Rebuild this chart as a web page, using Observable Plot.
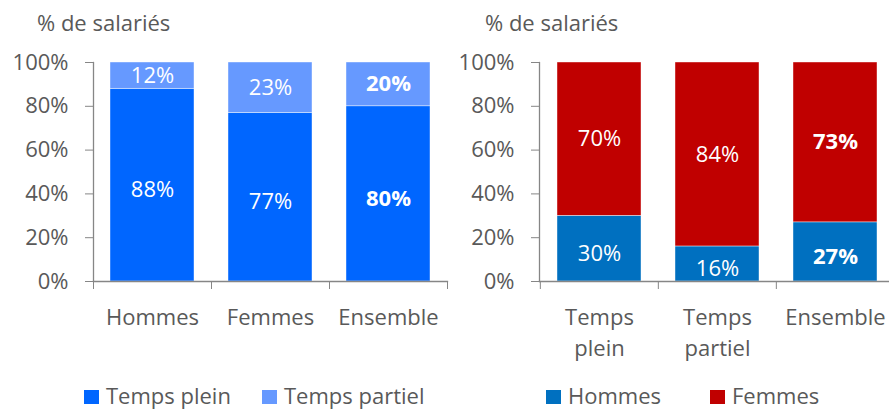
<!DOCTYPE html>
<html>
<head>
<meta charset="utf-8">
<script src="https://cdn.jsdelivr.net/npm/d3@7"></script>
<script src="https://cdn.jsdelivr.net/npm/@observablehq/plot@0.6"></script>
<style>
  html, body { margin: 0; padding: 0; background: #fff; }
  #root { position: relative; width: 889px; height: 410px; overflow: hidden; font-family: "Open Sans", sans-serif; color: #595959; }
  .title { position: absolute; font-size: 22px; line-height: 22px; white-space: nowrap; }
  .chart { position: absolute; top: 0; }
  .chart svg { max-width: none !important; }
  .legend { position: absolute; font-size: 22px; line-height: 22px; white-space: nowrap; }
  .sw { position: absolute; width: 15px; height: 14px; }
</style>
</head>
<body>
<div id="root"></div>
<script>
// ---- data ----
const leftCats = ["Hommes", "Femmes", "Ensemble"];
const leftSeries = ["Temps plein", "Temps partiel"];
const tempsPlein = [88, 77, 80];
const tempsPartiel = [12, 23, 20];
const leftColors = ["#0066FF", "#6699FF"];

const rightCats = ["Temps plein", "Temps partiel", "Ensemble"];
const rightSeries = ["Hommes", "Femmes"];
const hommes = [30, 16, 27];
const femmes = [70, 84, 73];
const rightColors = ["#0070C0", "#C00000"];

const yTicks = [0, 20, 40, 60, 80, 100];
const boldCat = "Ensemble";
const titleText = "% de salariés";

// ---- helpers ----
const root = document.getElementById("root");
const gray = "#595959", axisGray = "#868686";
const FS = 22;

function makeChart({cats, series, values, colors, left, width, marginLeft, tickFmt}) {
  const rows = [];
  cats.forEach((c, i) => {
    let base = 0;
    series.forEach((s, j) => {
      const v = values[j][i];
      rows.push({cat: c, serie: s, value: v, base, idx: j});
      base += v;
    });
  });
  const marginTop = 62, marginBottom = 89, height = 62 + 219 + 89;
  const step = (width - marginLeft) / cats.length;
  const marks = [
    Plot.barY(rows, {x: "cat", y: "value", fill: "serie", stroke: "white", strokeWidth: 0.6, strokeOpacity: 0.7}),
    Plot.frame({anchor: "left", stroke: axisGray, strokeWidth: 1.3}),
    Plot.frame({anchor: "bottom", stroke: axisGray, strokeWidth: 1.3}),
    Plot.axisY({ticks: yTicks, tickFormat: d => d + "%", tickSize: 8, tickPadding: 17, stroke: axisGray, fill: gray, fontSize: FS, label: null}),
    Plot.axisX({tickSize: 0, tickPadding: 21, tickFormat: tickFmt, fill: gray, fontSize: FS, lineHeight: 1.42, label: null}),
    Plot.axisX({tickSize: 8, tickFormat: () => "", dx: -step / 2, stroke: axisGray, label: null}),
    Plot.axisX({ticks: [cats[cats.length - 1]], tickSize: 8, tickFormat: () => "", dx: step / 2, stroke: axisGray, label: null})
  ];
  const dys = [5, 0];
  series.forEach((s, j) => {
    [false, true].forEach(bold => {
      marks.push(Plot.text(rows, {
        filter: d => d.serie === s && ((d.cat === boldCat) === bold),
        x: "cat", y: d => d.base + d.value / 2,
        text: d => d.value + "%",
        fill: "white", fontSize: FS, fontWeight: bold ? "bold" : "normal",
        dy: dys[j]
      }));
    });
  });
  const svg = Plot.plot({
    width, height, marginLeft, marginRight: 0, marginTop, marginBottom,
    style: {fontFamily: "Open Sans, sans-serif", fontSize: FS + "px", background: "transparent", overflow: "visible", maxWidth: "none"},
    x: {domain: cats, paddingInner: 0.29, paddingOuter: 0.145, axis: null},
    y: {domain: [0, 100], axis: null},
    color: {domain: series, range: colors},
    marks
  });
  const wrap = document.createElement("div");
  wrap.className = "chart";
  wrap.style.left = left + "px";
  wrap.style.width = width + "px";
  wrap.style.height = height + "px";
  wrap.appendChild(svg);
  root.appendChild(wrap);
}

function addTitle(left) {
  const d = document.createElement("div");
  d.className = "title";
  d.style.left = left + "px";
  d.style.top = "11px";
  d.textContent = titleText;
  root.appendChild(d);
}

function addLegend(items, colors, positions) {
  items.forEach((name, i) => {
    const sw = document.createElement("div");
    sw.className = "sw";
    sw.style.left = positions[i][0] + "px";
    sw.style.top = "390px";
    sw.style.background = colors[i];
    root.appendChild(sw);
    const t = document.createElement("div");
    t.className = "legend";
    t.style.left = positions[i][1] + "px";
    t.style.top = "384px";
    t.textContent = name;
    root.appendChild(t);
  });
}

makeChart({cats: leftCats, series: leftSeries, values: [tempsPlein, tempsPartiel], colors: leftColors,
  left: 0, width: 447, marginLeft: 93, tickFmt: d => d});
makeChart({cats: rightCats, series: rightSeries, values: [hommes, femmes], colors: rightColors,
  left: 445, width: 449, marginLeft: 94, tickFmt: d => d.replace(" ", "\n")});
addTitle(37);
addTitle(485);
addLegend(leftSeries, leftColors, [[84, 106], [262, 284]]);
addLegend(rightSeries, rightColors, [[546, 568], [710, 732]]);
</script>
</body>
</html>
